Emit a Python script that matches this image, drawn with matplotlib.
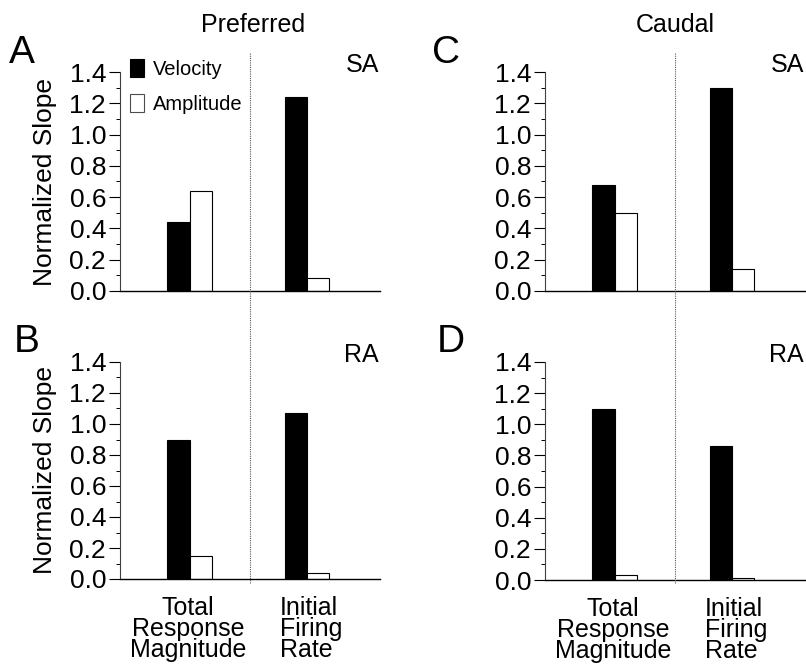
import matplotlib
matplotlib.use("Agg")
import matplotlib.pyplot as plt
from matplotlib.patches import Patch
from matplotlib.lines import Line2D
from matplotlib.ticker import MultipleLocator, FormatStrFormatter

plt.rcParams['font.family'] = ['Liberation Sans', 'DejaVu Sans']

# measures (x categories) and panel values
measures = ["Total\nResponse\nMagnitude", "Initial\nFiring\nRate"]
series = ["Velocity", "Amplitude"]

# Preferred direction
pref_sa_velocity = [0.44, 1.24]
pref_sa_amplitude = [0.64, 0.08]
pref_ra_velocity = [0.90, 1.07]
pref_ra_amplitude = [0.15, 0.04]

# Caudal direction
caud_sa_velocity = [0.68, 1.30]
caud_sa_amplitude = [0.50, 0.14]
caud_ra_velocity = [1.10, 0.86]
caud_ra_amplitude = [0.03, 0.01]

W, H = 806, 665
fig = plt.figure(figsize=(W / 100, H / 100), dpi=100)


def px_axes(left, right, bottom, top):
    return fig.add_axes([left / W, 1 - bottom / H, (right - left) / W, (bottom - top) / H])


def draw_panel(ax, vel, amp, cell_label, show_ylabel, show_xlabels, legend=False):
    centers = [1.07, 2.88]
    bw = 0.34
    ax.bar([c - bw / 2 for c in centers], vel, width=bw, color='black',
           edgecolor='black', linewidth=0.8, label=series[0])
    ax.bar([c + bw / 2 for c in centers], amp, width=bw, color='white',
           edgecolor='black', linewidth=0.8, label=series[1])
    ax.set_xlim(0, 4)
    ax.set_ylim(0, 1.4)
    ax.yaxis.set_major_locator(MultipleLocator(0.2))
    ax.yaxis.set_minor_locator(MultipleLocator(0.1))
    ax.yaxis.set_major_formatter(FormatStrFormatter('%.1f'))
    ax.tick_params(axis='y', which='major', direction='out', length=8, width=0.8,
                   labelsize=19, pad=2)
    ax.tick_params(axis='y', which='minor', direction='out', length=3, width=0.7)
    for s in ['top', 'right']:
        ax.spines[s].set_visible(False)
    ax.spines['left'].set_color('0.25')
    ax.spines['left'].set_linewidth(0.8)
    ax.spines['bottom'].set_linewidth(1.0)
    ax.patch.set_alpha(0)

    if show_xlabels:
        ax.set_xticks([1.05, 2.46])
        ax.set_xticklabels(measures, fontsize=18, linespacing=0.84)
        labs = ax.get_xticklabels()
        labs[0].set_ha('center')
        labs[0].set_multialignment('center')
        labs[1].set_ha('left')
        labs[1].set_multialignment('left')
        ax.tick_params(axis='x', length=0, pad=12)
    else:
        ax.set_xticks([])

    if show_ylabel:
        ax.set_ylabel("Normalized Slope", fontsize=19, labelpad=9)

    ax.text(0.995, 1.0, cell_label, transform=ax.transAxes, ha='right',
            va='baseline', fontsize=18)

    if legend:
        handles = [Patch(facecolor='black', edgecolor='black', lw=0.8),
                   Patch(facecolor='white', edgecolor='0.3', lw=0.8)]
        ax.legend(handles, series, loc='upper left', bbox_to_anchor=(0.04, 1.06),
                  frameon=False, fontsize=14.5, handlelength=0.7, handleheight=1.0,
                  handletextpad=0.4, labelspacing=0.75, borderpad=0, borderaxespad=0)


axA = px_axes(120, 380, 291, 72)
axB = px_axes(120, 380, 579, 362)
axC = px_axes(545, 805, 291, 72)
axD = px_axes(545, 805, 580, 362)

draw_panel(axA, pref_sa_velocity, pref_sa_amplitude, "SA", True, False, legend=True)
draw_panel(axB, pref_ra_velocity, pref_ra_amplitude, "RA", True, True)
draw_panel(axC, caud_sa_velocity, caud_sa_amplitude, "SA", False, False)
draw_panel(axD, caud_ra_velocity, caud_ra_amplitude, "RA", False, True)

# dotted dividers running through both rows of each column
for ax in (axA, axC):
    xd = fig.transFigure.inverted().transform(ax.transData.transform((2.0, 0)))[0]
    fig.add_artist(Line2D([xd, xd], [1 - 53 / H, 1 - 583 / H], transform=fig.transFigure,
                          color='0.35', lw=0.8, linestyle=(0, (1, 1))))

# column titles
fig.text(253 / W, 1 - 32 / H, "Preferred", ha='center', va='baseline', fontsize=18)
fig.text(675 / W, 1 - 32 / H, "Caudal", ha='center', va='baseline', fontsize=18)

# panel letters
for letter, x, y in [("A", 9, 63), ("B", 14, 352), ("C", 432, 63), ("D", 437, 352)]:
    fig.text(x / W, 1 - y / H, letter, ha='left', va='baseline', fontsize=28)

fig.savefig("out.png", dpi=100)
